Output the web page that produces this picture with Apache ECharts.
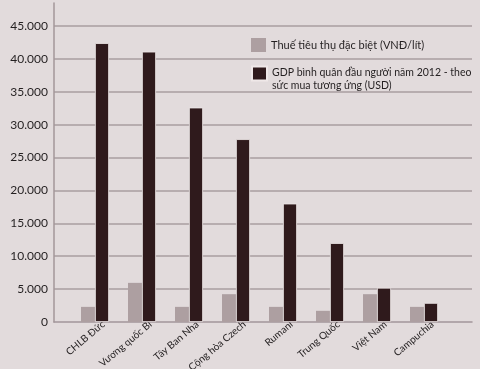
<!DOCTYPE html>
<html><head><meta charset="utf-8">
<script src="https://cdn.jsdelivr.net/npm/echarts@6/dist/echarts.min.js"></script>
<style>html,body{margin:0;padding:0;background:#e2dbdc}#c{width:480px;height:369px}</style>
</head><body><div id="c"></div>
<script>
const categories = ['CHLB Đức','Vương quốc Bỉ','Tây Ban Nha','Cộng hòa Czech','Rumani','Trung Quốc','Việt Nam','Campuchia'];
const taxName = 'Thuế tiêu thụ đặc biệt (VNĐ/lít)';
const gdpName = 'GDP bình quân đầu người năm 2012 - theo sức mua tương ứng (USD)';
const gdpLines = ['GDP bình quân đầu người năm 2012 - theo', 'sức mua tương ứng (USD)'];
const taxValues = [2300, 5950, 2300, 4230, 2300, 1700, 4230, 2300];
const gdpValues = [42400, 41100, 32600, 27800, 18000, 12000, 5200, 2900];
const yMax = 48500;

const chart = echarts.init(document.getElementById('c'));
const font = 'Lato';
const gridBase = {top: 3, bottom: 47, containLabel: false, outerBoundsMode: 'none'};
chart.setOption({
  backgroundColor: '#e2dbdc',
  animation: false,
  grid: [
    Object.assign({left: 54, right: 8}, gridBase),
    Object.assign({left: 71.5, right: 32.5}, gridBase),
    Object.assign({left: 80, right: 24}, gridBase)
  ],
  legend: [
    {data: [{name: taxName, icon: 'rect'}], left: 251, top: 38, padding: 0, itemWidth: 15, itemHeight: 14, itemGap: 5,
     textStyle: {fontFamily: font, fontSize: 11, color: '#231f20'}},
    {data: [{name: gdpName, icon: 'rect'}], left: 251, top: 55, padding: 0, itemWidth: 15, itemHeight: 14, itemGap: 5,
     formatter: () => '{s|}\n{t|' + gdpLines[0] + '}\n{t|' + gdpLines[1] + '}',
     textStyle: {fontFamily: font, fontSize: 10.5, color: '#231f20', overflow: 'none', width: 260,
       rich: {s: {lineHeight: 12, fontSize: 10.5}, t: {lineHeight: 13, fontSize: 10.5, fontFamily: font, color: '#231f20'}}}}
  ],
  xAxis: [
    {gridIndex: 0, type: 'value', min: 0, max: 1, axisLine: {show: true, lineStyle: {color: '#a3979a', width: 1.5}},
     axisTick: {show: false}, axisLabel: {show: false}, splitLine: {show: false}},
    {gridIndex: 1, type: 'category', data: categories, axisLine: {show: false}, axisTick: {show: false},
     axisLabel: {show: false}},
    {gridIndex: 2, type: 'category', data: categories, axisLine: {show: false}, axisTick: {show: false},
     axisLabel: {show: true, rotate: 40, margin: 1, interval: 0, hideOverlap: false, overflow: 'none', width: 200,
       fontFamily: font, fontSize: 10, color: '#231f20'}}
  ],
  yAxis: [
    {gridIndex: 0, type: 'value', min: 0, max: yMax, interval: 5000,
     axisLine: {show: true, lineStyle: {color: '#a3979a', width: 1.5}}, axisTick: {show: false},
     axisLabel: {margin: 6, showMaxLabel: false, fontFamily: font, fontSize: 12, color: '#231f20',
       formatter: v => v % 5000 === 0 ? (v === 0 ? '0' : (v/1000).toFixed(0) + '.000') : ''},
     splitLine: {show: true, showMaxLine: false, showMinLine: false, lineStyle: {color: '#a99ea0', width: 1.5}}},
    {gridIndex: 1, type: 'value', min: 0, max: yMax, show: false, splitLine: {show: false}},
    {gridIndex: 2, type: 'value', min: 0, max: yMax, show: false, splitLine: {show: false}}
  ],
  series: [
    {name: taxName, type: 'bar', xAxisIndex: 1, yAxisIndex: 1, data: taxValues, barWidth: 14, barGap: '0%',
     itemStyle: {color: '#ad9fa1'}},
    {name: gdpName, type: 'bar', xAxisIndex: 1, yAxisIndex: 1, data: gdpValues, barWidth: 14, barGap: '0%',
     itemStyle: {color: '#2f1a1c', borderColor: '#efe8e8', borderWidth: 0.8}}
  ]
});
</script></body></html>
